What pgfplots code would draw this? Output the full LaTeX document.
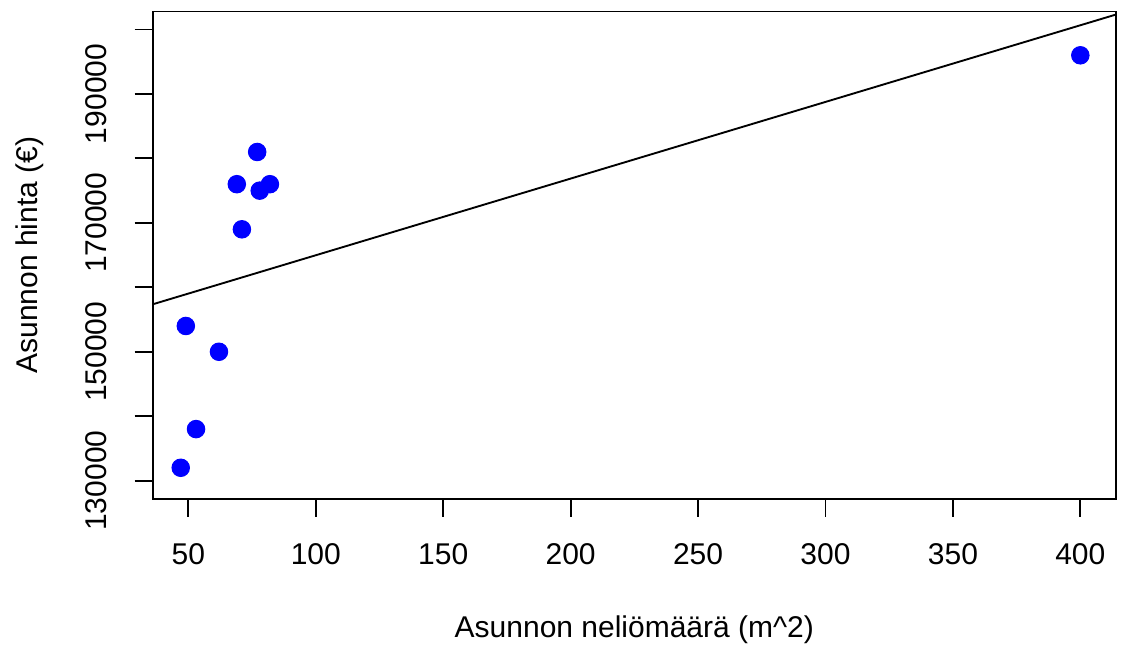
\documentclass[border=0pt]{standalone}
\usepackage{fontspec}
\setmainfont{Liberation Sans}
\usepackage{pgfplots}
\pgfplotsset{compat=1.18}
\begin{document}
\fontsize{12}{14.4}\selectfont
\begin{tikzpicture}
\path[use as bounding box] (0,0) rectangle (448.8pt,259.2pt);
\begin{axis}[
  at={(61.08pt,59.72pt)}, anchor=south west,
  scale only axis, width=385.32pt, height=194.88pt,
  xmin=36, xmax=414, ymin=127200, ymax=202800,
  axis line style={line width=0.75pt},
  tick style={line width=0.75pt, black},
  major tick length=7.2pt, tick align=outside,
  xtick pos=bottom, ytick pos=left,
  xtick={50,100,...,400},
  xticklabels={50,100,150,200,250,300,350,400},
  ytick={130000,140000,150000,160000,170000,180000,190000,200000},
  yticklabels={\rotatebox{90}{130000},{},\rotatebox{90}{150000},{},\rotatebox{90}{170000},{},\rotatebox{90}{190000},{}},
  ticklabel style={font=\fontsize{12}{14.4}\selectfont},
  label style={font=\fontsize{12}{14.4}\selectfont},
  xticklabel style={anchor=north, inner sep=0pt, yshift=-10.64pt},
  yticklabel style={anchor=east, inner sep=0pt, xshift=-10.96pt},
  xlabel={Asunnon neliömäärä (m\textasciicircum 2)},
  ylabel={Asunnon hinta (€)},
  xlabel style={at={(axis description cs:0.5,-0.2858)}, anchor=base, inner sep=0pt},
  ylabel style={at={(axis description cs:-0.1191,0.5)}, anchor=base, inner sep=0pt},
]
\addplot[only marks, mark=*, mark size=3.5pt, blue, mark options={fill=blue, draw=blue}] coordinates {
  (47,132000) (53,138000) (49,154000) (62,150000) (71,169000)
  (69,176000) (77,181000) (78,175000) (82,176000) (400,196000)
};
\addplot[black, line width=0.75pt] coordinates {(36,157364) (414,202327)};
\end{axis}
\end{tikzpicture}
\end{document}
